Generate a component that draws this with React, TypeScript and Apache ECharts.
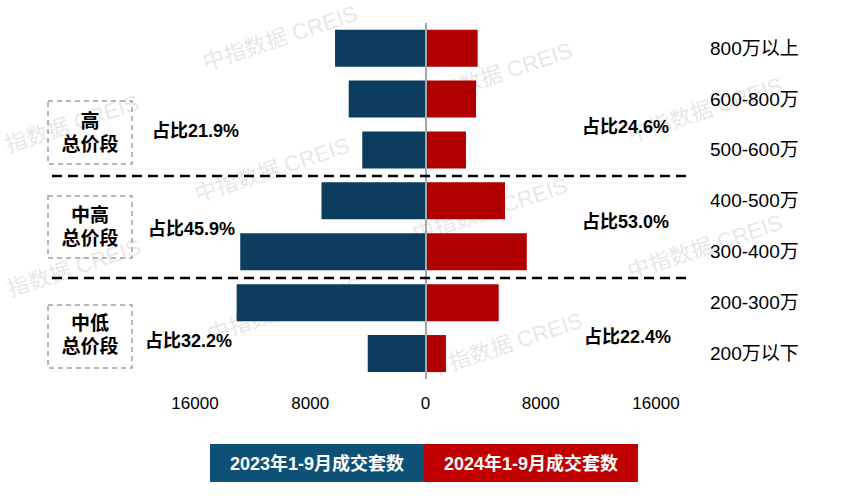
import React, { useEffect, useRef } from "react";
import * as echarts from "echarts";

const categories = ["800万以上", "600-800万", "500-600万", "400-500万", "300-400万", "200-300万", "200万以下"];
const series2023 = [6280, 5330, 4390, 7220, 12860, 13110, 4010];
const series2024 = [3620, 3510, 2810, 5520, 7030, 5080, 1420];
const seriesNames = ["2023年1-9月成交套数", "2024年1-9月成交套数"];
const groupNames = [["高", "总价段"], ["中高", "总价段"], ["中低", "总价段"]];
const shareLeft = ["占比21.9%", "占比45.9%", "占比32.2%"];
const shareRight = ["占比24.6%", "占比53.0%", "占比22.4%"];
const watermark = "中指数据 CREIS";
const watermarkCut = "指数据 CREIS";

const FONT = 'Arial, "Liberation Sans", "Noto Sans CJK SC", sans-serif';
const BLUE = "#0C3D5E";
const RED = "#B00000";

export default function App() {
  const ref = useRef<HTMLDivElement>(null);
  useEffect(() => {
    if (!ref.current) return;
    const chart = echarts.init(ref.current, undefined, { renderer: "svg" });

    const wmPos: [number, number, string][] = [
      [72, 124, watermarkCut], [272, 170, watermark], [490, 210, watermark], [705, 247, watermark],
      [280, 38, watermark], [495, 75, watermark], [705, 110, watermark],
      [74, 268, watermarkCut], [285, 310, watermark], [505, 345, watermark],
    ];
    const wm = wmPos.map(([x, y, t]) => ({
      type: "text",
      x, y, rotation: 0.32, z: 0,
      style: {
        text: t, fill: "rgba(170,170,170,0.3)",
        font: `22px ${FONT}`, align: "center", verticalAlign: "middle",
      },
    }));

    const boxes = [[101, 164, 121], [196, 258, 215], [305, 368, 323]];
    const boxEls: any[] = [];
    boxes.forEach(([t, b, ty], i) => {
      boxEls.push({
        type: "rect", z: 100,
        shape: { x: 48, y: t, width: 84, height: b - t },
        style: { fill: "none", stroke: "#A0A0A0", lineWidth: 1.5, lineDash: [5, 4] },
      });
      boxEls.push({
        type: "text", z: 100, x: 90, y: ty,
        style: { text: groupNames[i][0], font: `bold 19px ${FONT}`, fill: "#000", align: "center", verticalAlign: "middle" },
      });
      boxEls.push({
        type: "text", z: 100, x: 90, y: ty + 23,
        style: { text: groupNames[i][1], font: `bold 19px ${FONT}`, fill: "#000", align: "center", verticalAlign: "middle" },
      });
    });

    const leftPos = [[152, 131], [148, 229], [145, 341]];
    const rightPos = [[582, 127], [582, 222], [584, 337]];
    const shareEls: any[] = [];
    leftPos.forEach(([x, y], i) => shareEls.push({
      type: "text", z: 100, x, y,
      style: { text: shareLeft[i], font: `bold 18px ${FONT}`, fill: "#000", align: "left", verticalAlign: "middle" },
    }));
    rightPos.forEach(([x, y], i) => shareEls.push({
      type: "text", z: 100, x, y,
      style: { text: shareRight[i], font: `bold 18px ${FONT}`, fill: "#000", align: "left", verticalAlign: "middle" },
    }));

    const dashEls = [176, 278].map((y) => ({
      type: "line", z: 100,
      shape: { x1: 52, y1: y, x2: 690, y2: y },
      style: { stroke: "#000", lineWidth: 2.5, lineDash: [10, 6] },
    }));

    const legendEls = [
      { type: "rect", z: 100, shape: { x: 210, y: 444, width: 214, height: 38 }, style: { fill: "#0E5177" } },
      { type: "rect", z: 100, shape: { x: 424, y: 444, width: 214, height: 38 }, style: { fill: "#C00000" } },
      { type: "text", z: 101, x: 317, y: 464, style: { text: seriesNames[0], font: `bold 18px ${FONT}`, fill: "#fff", align: "center", verticalAlign: "middle" } },
      { type: "text", z: 101, x: 531, y: 464, style: { text: seriesNames[1], font: `bold 18px ${FONT}`, fill: "#fff", align: "center", verticalAlign: "middle" } },
    ];

    chart.setOption({
      animation: false,
      backgroundColor: "#fff",
      grid: { left: 195, right: 190, top: 22.7, bottom: 120, containLabel: false },
      xAxis: {
        type: "value", min: -16000, max: 16000, interval: 8000,
        axisLine: { show: false }, axisTick: { show: false }, splitLine: { show: false },
        axisLabel: {
          formatter: (v: number) => String(Math.abs(v)),
          fontSize: 17, color: "#000", fontFamily: FONT, margin: 16,
        },
      },
      yAxis: {
        type: "category", data: categories, inverse: true, position: "right",
        axisLine: { show: false }, axisTick: { show: false },
        axisLabel: { fontSize: 19, color: "#000", fontFamily: FONT, margin: 54, align: "left" },
      },
      series: [
        {
          name: seriesNames[0], type: "bar", data: series2023.map((v) => -v),
          barWidth: 37, barGap: "-100%", itemStyle: { color: BLUE },
        },
        {
          name: seriesNames[1], type: "bar", data: series2024,
          barWidth: 37, barGap: "-100%", itemStyle: { color: RED },
          markLine: {
            silent: true, symbol: "none", label: { show: false },
            lineStyle: { color: "#A6A6A6", width: 2, type: "solid" },
            data: [{ xAxis: 0 }],
          },
        },
      ],
      graphic: { elements: [...wm, ...dashEls, ...boxEls, ...shareEls, ...legendEls] },
    });
    return () => chart.dispose();
  }, []);
  return <div ref={ref} style={{ width: 846, height: 499, position: "absolute", left: 0, top: 0 }} />;
}
